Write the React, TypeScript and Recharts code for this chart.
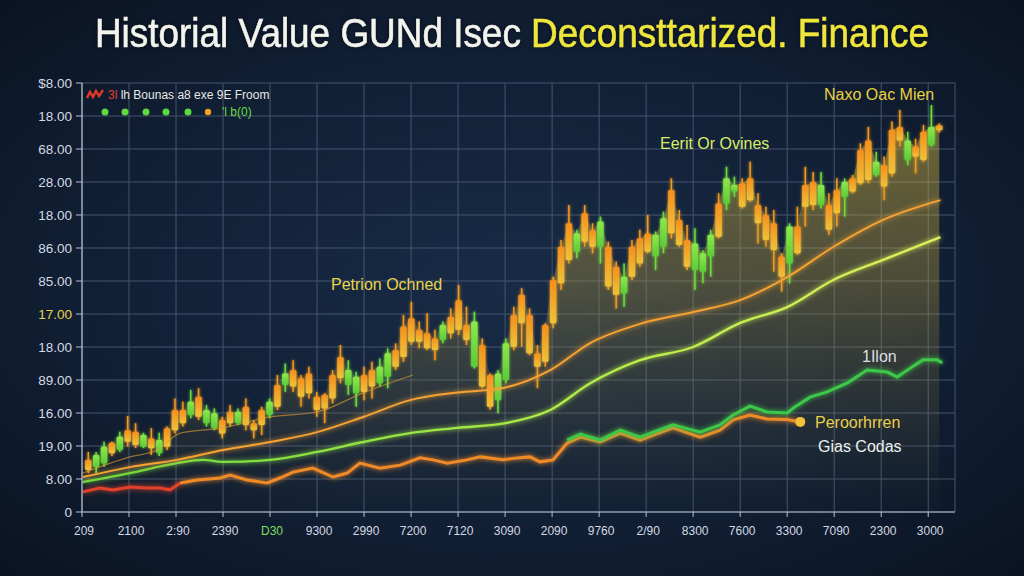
import React from 'react'
import {
  ComposedChart,
  XAxis,
  YAxis,
  CartesianGrid,
  Line,
  Area,
  Bar,
  ReferenceDot,
} from 'recharts'

const Y_TICK_LABELS = ['0', '8.00', '19.00', '16.00', '89.00', '18.00', '17.00', '85.00', '86.00', '18.00', '28.00', '68.00', '18.00', '$8.00']
const Y_TICKS = Y_TICK_LABELS.map((_, i) => i)

const X_TICK_LABELS = ['209', '2100', '2:90', '2390', 'D30', '9300', '2990', '7200', '7120', '3090', '2090', '9760', '2/90', '8300', '7600', '3300', '7090', '2300', '3000']
const X_TICKS = X_TICK_LABELS.map((_, i) => i)

// candles: [open, close, high, low], one per period
const CANDLE_START = 0.134
const CANDLE_STEP = 0.1676
const CANDLES: [number, number, number, number][] = [
  [1.58, 1.27, 1.82, 1.18], [1.36, 1.73, 1.82, 1.15], [1.47, 1.98, 2.13, 1.37], [2.1, 1.78, 2.13, 1.7],
  [1.88, 2.28, 2.43, 1.82], [2.48, 2.13, 2.91, 1.98], [2.43, 2.03, 2.69, 1.94], [1.98, 2.33, 2.4, 1.94],
  [2.23, 1.93, 2.54, 1.73], [1.78, 2.18, 2.4, 1.7], [2.54, 1.98, 2.59, 1.88], [3.09, 2.48, 3.44, 2.38],
  [3.09, 2.69, 3.34, 2.59], [2.94, 3.34, 3.7, 2.84], [3.49, 2.89, 3.75, 2.79], [2.69, 3.09, 3.24, 2.59],
  [2.54, 2.99, 3.14, 2.48], [2.79, 2.38, 2.89, 2.23], [3.04, 2.69, 3.24, 2.59], [2.69, 3.04, 3.14, 2.64],
  [3.19, 2.64, 3.44, 2.48], [2.69, 2.48, 2.79, 2.23], [3.09, 2.64, 3.19, 2.33], [2.94, 3.34, 3.44, 2.84],
  [3.85, 3.19, 4.15, 3.09], [3.85, 4.2, 4.5, 3.64], [4.3, 3.8, 4.6, 3.64], [4.05, 3.49, 4.15, 3.19],
  [4.2, 3.6, 4.4, 3.44], [3.49, 3.09, 3.64, 2.89], [3.55, 3.14, 3.6, 2.69], [4.15, 3.44, 4.3, 3.29],
  [4.7, 4.05, 5.06, 3.9], [3.85, 4.3, 4.6, 3.55], [3.6, 4.1, 4.25, 3.19], [4.15, 3.64, 4.4, 3.39],
  [4.3, 3.8, 4.55, 3.44], [3.9, 4.4, 4.65, 3.8], [4.1, 4.81, 4.96, 3.75], [4.91, 4.4, 5.11, 4.3],
  [5.62, 4.7, 5.97, 4.55], [5.87, 5.16, 6.37, 5.06], [5.52, 5.16, 5.77, 4.96], [5.42, 4.96, 6.02, 4.91],
  [5.26, 4.91, 5.52, 4.6], [5.21, 5.67, 5.77, 5.11], [5.92, 5.42, 6.17, 5.26], [6.42, 5.52, 6.88, 5.36],
  [5.67, 5.21, 6.22, 5.06], [4.4, 5.77, 6.07, 4.35], [5.06, 3.8, 5.26, 3.75], [4.15, 3.19, 4.2, 3.1],
  [3.39, 4.2, 4.3, 2.99], [4.0, 5.11, 5.26, 3.9], [5.97, 5.01, 6.22, 4.9], [6.58, 5.72, 6.78, 5.01],
  [5.97, 4.81, 6.17, 4.75], [4.81, 4.4, 5.06, 3.75], [5.67, 4.55, 5.72, 4.4], [7.03, 5.72, 7.13, 5.57],
  [8.04, 6.93, 8.24, 6.73], [8.75, 7.64, 9.3, 7.53], [7.89, 8.44, 8.55, 7.69], [9.05, 8.19, 9.3, 8.04],
  [8.54, 8.04, 8.75, 7.84], [8.04, 8.8, 8.95, 7.53], [8.04, 6.83, 8.19, 6.73], [7.43, 6.58, 7.59, 6.17],
  [6.62, 7.13, 7.53, 6.22], [8.04, 7.13, 8.24, 7.03], [8.29, 7.53, 8.55, 7.43], [8.44, 7.89, 9.0, 7.84],
  [7.74, 8.4, 8.5, 7.33], [8.04, 8.9, 9.1, 7.84], [9.76, 8.45, 10.11, 8.29], [8.85, 8.09, 9.15, 8.04],
  [8.24, 7.43, 8.7, 7.33], [7.33, 8.14, 8.6, 6.73], [7.28, 7.84, 7.94, 6.93], [7.74, 8.4, 8.55, 7.13],
  [9.35, 8.34, 9.66, 8.29], [9.35, 10.11, 10.46, 9.15], [9.71, 9.91, 10.16, 9.55], [9.96, 9.25, 10.11, 9.2],
  [10.11, 9.45, 10.61, 9.4], [9.3, 8.75, 9.66, 8.14], [9.0, 8.24, 9.25, 8.04], [8.75, 7.94, 9.15, 7.28],
  [7.74, 7.13, 7.84, 6.68], [7.53, 8.65, 8.75, 6.93], [8.65, 7.84, 9.25, 7.79], [9.91, 9.25, 10.46, 8.65],
  [10.0, 9.3, 10.3, 9.15], [9.3, 9.91, 10.3, 9.2], [9.3, 8.55, 9.66, 8.4], [9.76, 9.05, 10.11, 8.65],
  [9.55, 10.0, 10.11, 8.95], [10.11, 9.71, 10.21, 9.66], [10.97, 9.96, 11.17, 9.91], [11.26, 10.06, 11.67, 9.96],
  [10.21, 10.61, 10.92, 10.16], [10.51, 9.86, 10.77, 9.45], [11.58, 10.26, 11.83, 10.16], [11.67, 11.26, 12.18, 11.07],
  [10.67, 11.26, 11.52, 10.51], [11.07, 10.77, 11.31, 10.26], [11.52, 10.67, 11.73, 10.61], [11.11, 11.67, 12.33, 11.07],
  [11.72, 11.57, 11.77, 11.5],
]

// moving averages
const ORANGE_MA_X = [0.02, 1.02, 2.02, 3.0, 4.0, 5.0, 5.98, 6.98, 7.98, 8.96, 9.96, 10.81, 11.87, 13.0, 14.0, 15.0, 15.98, 17.04, 18.26]
const ORANGE_MA = [1.06, 1.36, 1.58, 1.88, 2.12, 2.42, 2.88, 3.39, 3.62, 3.76, 4.3, 5.12, 5.7, 6.06, 6.42, 7.12, 8.03, 8.85, 9.45]

const GREEN_MA_X = [0.02, 1.02, 2.02, 2.57, 3.0, 4.0, 5.0, 5.98, 6.98, 7.98, 9.04, 9.96, 10.81, 11.87, 13.0, 14.0, 15.0, 15.98, 17.04, 18.26]
const GREEN_MA = [0.91, 1.18, 1.48, 1.58, 1.52, 1.58, 1.82, 2.12, 2.39, 2.55, 2.7, 3.09, 3.9, 4.6, 5.0, 5.73, 6.21, 7.03, 7.64, 8.33]

const FAST_MA_X = [0.02, 1.02, 1.6, 2.09, 3.0, 4.0, 5.0, 5.98, 7.04]
const FAST_MA = [1.18, 1.67, 1.88, 2.39, 2.55, 2.88, 3.03, 3.61, 4.15]

// lower series
const LOW_RED_X = [0.02, 0.38, 0.66, 1.02, 1.38, 1.66, 1.87, 2.09]
const LOW_RED = [0.61, 0.73, 0.67, 0.76, 0.73, 0.73, 0.67, 0.88]

const LOW_ORANGE_X = [2.09, 2.45, 2.94, 3.15, 3.51, 3.94, 4.21, 4.49, 4.91, 5.34, 5.64, 5.91, 6.34, 6.77, 7.19, 7.47, 7.77, 8.19, 8.47, 8.96, 9.26, 9.53, 9.74, 10.02, 10.32, 10.6, 11.02, 11.45, 11.87, 12.57, 13.15, 13.57, 13.85, 14.21, 14.57, 15.0, 15.28]
const LOW_ORANGE = [0.88, 0.97, 1.03, 1.12, 0.97, 0.88, 1.03, 1.21, 1.33, 1.06, 1.18, 1.48, 1.33, 1.42, 1.64, 1.58, 1.48, 1.58, 1.67, 1.58, 1.64, 1.67, 1.52, 1.58, 2.09, 2.27, 2.12, 2.39, 2.18, 2.55, 2.27, 2.48, 2.79, 2.94, 2.82, 2.8, 2.73]

const LOW_GREEN_X = [10.32, 10.6, 11.02, 11.45, 11.87, 12.57, 13.15, 13.57, 13.85, 14.21, 14.57, 15.0, 15.13, 15.49, 15.85, 16.28, 16.7, 17.13, 17.34, 17.62, 17.89, 18.19, 18.3]
const LOW_GREEN = [2.18, 2.36, 2.18, 2.48, 2.27, 2.64, 2.42, 2.64, 2.94, 3.21, 3.03, 3.0, 3.15, 3.48, 3.64, 3.91, 4.3, 4.24, 4.09, 4.36, 4.61, 4.61, 4.52]

const GREEN = '#6edc3c'
const ORANGE = '#f39a1e'
const FONT = '"Liberation Sans", Arial, sans-serif'

const candleRows = CANDLES.map(([o, c, h, l], i) => ({ x: CANDLE_START + i * CANDLE_STEP, o, c, h, l }))
const pts = (xs: number[], vs: number[]) => xs.map((x, i) => ({ x, v: vs[i] }))

function Candle(props: any) {
  const { x, y, width, height, payload } = props
  if (!payload) return null
  const { o, c, h, l } = payload
  const top = height < 0 ? y + height : y
  const hgt = Math.abs(height)
  const ppu = hgt / (h - l || 1)
  const cx = x + width / 2
  const yo = top + (h - o) * ppu
  const yc = top + (h - c) * ppu
  const color = c >= o ? GREEN : ORANGE
  return (
    <g filter="url(#softGlow)">
      <line x1={cx} x2={cx} y1={top} y2={top + hgt} stroke={color} strokeWidth={1.5} />
      <rect
        x={cx - 3.2}
        width={6.4}
        y={Math.min(yo, yc)}
        height={Math.max(Math.abs(yc - yo), 1.5)}
        fill={c >= o ? 'url(#candleUp)' : 'url(#candleDown)'}
        rx={1.5}
      />
    </g>
  )
}

function YTick({ x, y, payload }: any) {
  const i = payload.value
  return (
    <text x={x} y={y} dy={5} textAnchor="end" fontSize={13.5} fontFamily={FONT} fill={i === 6 ? '#e9d24c' : '#d4d9e2'}>
      {Y_TICK_LABELS[i]}
    </text>
  )
}

function XTick({ x, y, payload }: any) {
  const i = payload.value
  return (
    <text x={x + 2} y={y} dy={12} textAnchor="middle" fontSize={12} fontFamily={FONT} fill={i === 4 ? '#7fdc5c' : '#d4d9e2'}>
      {X_TICK_LABELS[i]}
    </text>
  )
}

const label = (left: number, top: number, color: string, size = 16): React.CSSProperties => ({
  position: 'absolute',
  left,
  top,
  color,
  fontSize: size,
  fontFamily: FONT,
  whiteSpace: 'nowrap',
  lineHeight: 1,
})

export default function App() {
  return (
    <div
      style={{
        position: 'absolute',
        left: 0,
        top: 0,
        width: 1024,
        height: 576,
        overflow: 'hidden',
        background: 'radial-gradient(ellipse at 50% 50%, #182b46 0%, #111f34 60%, #0a1322 100%)',
      }}
    >
      <div
        style={{
          position: 'absolute',
          left: 0,
          top: 13,
          width: 1024,
          textAlign: 'center',
          fontFamily: FONT,
          fontSize: 41,
          lineHeight: 1,
          color: '#f4f4ef',
          transform: 'scaleX(0.9)',
          WebkitTextStroke: '0.6px currentColor',
          textShadow: '0 0 6px rgba(0,0,0,0.6)',
        }}
      >
        Historial Value GUNd Isec <span style={{ color: '#efe63c' }}>Deconsttarized. Finance</span>
      </div>

      <ComposedChart
        width={1024}
        height={576}
        data={candleRows}
        margin={{ top: 83, right: 69, bottom: 34, left: 0 }}
      >
        <defs>
          <filter id="softGlow" filterUnits="userSpaceOnUse" x="0" y="0" width="1024" height="576">
            <feGaussianBlur stdDeviation="1.8" result="b" />
            <feMerge>
              <feMergeNode in="b" />
              <feMergeNode in="SourceGraphic" />
            </feMerge>
          </filter>
          <filter id="lineGlow" filterUnits="userSpaceOnUse" x="0" y="0" width="1024" height="576">
            <feGaussianBlur stdDeviation="2.5" result="b" />
            <feMerge>
              <feMergeNode in="b" />
              <feMergeNode in="SourceGraphic" />
            </feMerge>
          </filter>
          <linearGradient id="goldFill" x1="0" y1="0" x2="0" y2="1">
            <stop offset="0%" stopColor="#e6c640" stopOpacity={0.72} />
            <stop offset="40%" stopColor="#c4a43a" stopOpacity={0.55} />
            <stop offset="75%" stopColor="#94823a" stopOpacity={0.25} />
            <stop offset="100%" stopColor="#6a6030" stopOpacity={0.02} />
          </linearGradient>
          <linearGradient id="greenMa" x1="0" y1="0" x2="1" y2="0">
            <stop offset="0%" stopColor="#6cd83c" />
            <stop offset="60%" stopColor="#b4ec48" />
            <stop offset="100%" stopColor="#dcf05a" />
          </linearGradient>
          <linearGradient id="candleDown" x1="0" y1="0" x2="0" y2="1">
            <stop offset="0%" stopColor="#f58f1c" />
            <stop offset="100%" stopColor="#eec23a" />
          </linearGradient>
          <linearGradient id="candleUp" x1="0" y1="0" x2="0" y2="1">
            <stop offset="0%" stopColor="#8ee84a" />
            <stop offset="100%" stopColor="#5ccb38" />
          </linearGradient>
        </defs>
        <CartesianGrid stroke="#45556e" strokeWidth={1} />
        <XAxis
          type="number"
          dataKey="x"
          domain={[0, 18.57]}
          ticks={X_TICKS}
          allowDataOverflow
          interval={0}
          tick={<XTick />}
          tickSize={5}
          tickMargin={6}
          height={30}
          axisLine={{ stroke: '#b8c2d0', strokeWidth: 1.2 }}
          tickLine={{ stroke: '#b8c2d0' }}
        />
        <YAxis
          type="number"
          domain={[0, 13]}
          ticks={Y_TICKS}
          interval={0}
          width={82}
          tick={<YTick />}
          tickSize={6}
          tickMargin={4}
          axisLine={{ stroke: '#b8c2d0', strokeWidth: 1.2 }}
          tickLine={{ stroke: '#b8c2d0' }}
        />
        <Area
          type="linear"
          dataKey={(d: any) => Math.max(d.o, d.c)}
          stroke="none"
          fill="url(#goldFill)"
          isAnimationActive={false}
        />
        <Bar
          dataKey={(d: any) => [d.l, d.h]}
          barSize={6}
          shape={<Candle />}
          isAnimationActive={false}
        />
        <Line data={pts(LOW_RED_X, LOW_RED)} dataKey="v" type="linear" stroke="#e2402c" strokeWidth={3} dot={false} filter="url(#lineGlow)" isAnimationActive={false} />
        <Line data={pts(LOW_ORANGE_X, LOW_ORANGE)} dataKey="v" type="linear" stroke="#f08a28" strokeWidth={3} dot={false} filter="url(#lineGlow)" isAnimationActive={false} />
        <Line data={pts(LOW_GREEN_X, LOW_GREEN)} dataKey="v" type="linear" stroke="#3cc84a" strokeWidth={3} dot={false} filter="url(#lineGlow)" isAnimationActive={false} />
        <Line data={pts(FAST_MA_X, FAST_MA)} dataKey="v" type="monotone" stroke="#e8a030" strokeOpacity={0.6} strokeWidth={1.2} dot={false} isAnimationActive={false} />
        <Line data={pts(GREEN_MA_X, GREEN_MA)} dataKey="v" type="monotone" stroke="url(#greenMa)" strokeWidth={2.4} dot={false} filter="url(#lineGlow)" isAnimationActive={false} />
        <Line data={pts(ORANGE_MA_X, ORANGE_MA)} dataKey="v" type="monotone" stroke="#f5a232" strokeWidth={2} dot={false} filter="url(#lineGlow)" isAnimationActive={false} />
        <ReferenceDot
          x={LOW_ORANGE_X[LOW_ORANGE_X.length - 1]}
          y={LOW_ORANGE[LOW_ORANGE.length - 1]}
          r={5}
          fill="#f2c23a"
          stroke="none"
        />
      </ComposedChart>

      {/* legend */}
      <svg style={{ position: 'absolute', left: 86, top: 88 }} width={20} height={14}>
        <polyline points="1,10 4,4 7,9 10,3 13,8 17,2" fill="none" stroke="#e23a2a" strokeWidth={2.4} />
      </svg>
      <div style={label(108, 89, '#e8e8e6', 12)}>
        <span style={{ color: '#e0402c' }}>3l </span>lh Bounas a8 exe 9E Froom
      </div>
      <svg style={{ position: 'absolute', left: 98, top: 105 }} width={120} height={14}>
        {[7, 27, 48, 68, 90].map((cx) => (
          <circle key={cx} cx={cx} cy={7} r={3.5} fill="#5ed83a" />
        ))}
        <circle cx={110} cy={7} r={3.2} fill="#f0a020" />
      </svg>
      <div style={label(222, 106, '#6cdc48', 12)}>'l b(0)</div>

      {/* annotations */}
      <div style={label(331, 277, '#ead64c', 16)}>Petrion Ochned</div>
      <div style={label(660, 136, '#d9ee68', 16)}>Eerit Or Ovines</div>
      <div style={label(824, 87, '#e9d040', 16)}>Naxo Oac Mien</div>
      <div style={label(862, 349, '#dadfe2', 16)}>1Ilon</div>
      <div style={label(815, 415, '#ead04a', 16)}>Peroorhrren</div>
      <div style={label(818, 439, '#eef0f0', 16)}>Gias Codas</div>
    </div>
  )
}
